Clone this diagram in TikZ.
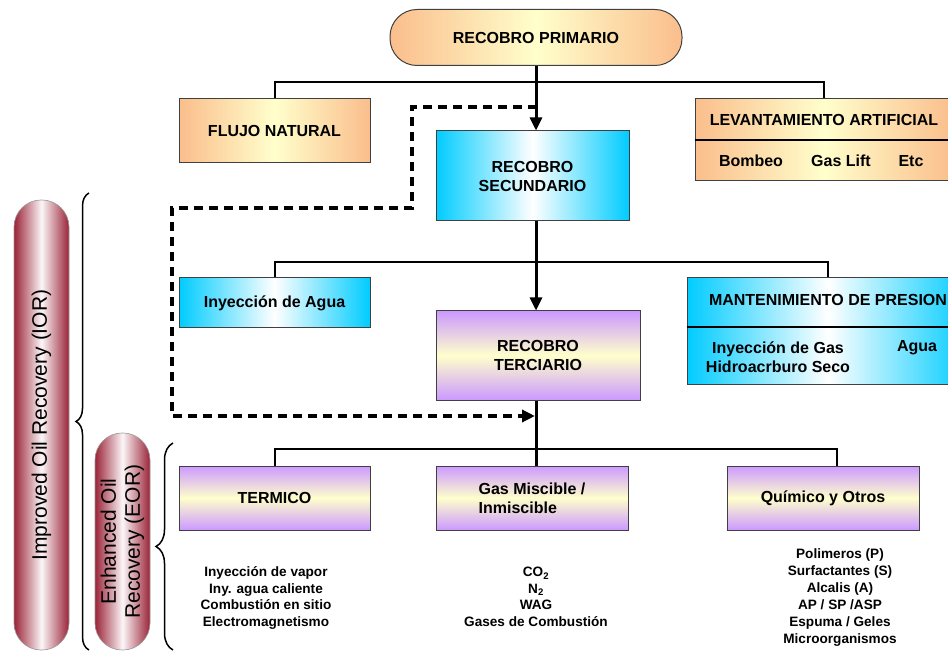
\documentclass[tikz,border=0pt]{standalone}
\usepackage{fontspec}
\setmainfont{Liberation Sans}
\usetikzlibrary{arrows.meta,positioning,calc,decorations.pathreplacing}

\definecolor{peach}{RGB}{250,190,140}
\definecolor{paleyellow}{RGB}{255,255,204}
\definecolor{skyblue}{RGB}{0,204,255}
\definecolor{lilac}{RGB}{204,153,255}
\definecolor{wine}{RGB}{155,35,55}

\begin{document}
\begin{tikzpicture}[x=1pt, y=-1pt,
    boxfont/.style={font=\fontsize{16}{19}\selectfont\bfseries},
    basebox/.style={draw=black!75, line width=1pt, inner sep=0pt, align=center, boxfont},
    orangebox/.style={basebox, left color=peach, right color=peach, middle color=paleyellow},
    bluebox/.style={basebox, left color=skyblue, right color=skyblue, middle color=white},
    purplebox/.style={basebox, top color=lilac, bottom color=lilac, middle color=paleyellow},
    pillbox/.style={draw=black!40, line width=0.6pt, rounded corners=27pt, left color=wine,
      right color=wine, middle color=wine!4, rotate=90, align=center,
      font=\fontsize{21}{24}\selectfont},
    listtext/.style={align=center, font=\fontsize{13.6}{16.5}\selectfont\bfseries},
    bus/.style={line width=2pt},
    flowarrow/.style={line width=3pt, -{Triangle[length=13pt,width=12pt]}},
    dashflow/.style={line width=3.5pt, dash pattern=on 9pt off 6pt, -{Triangle[length=13pt,width=12pt]}},
    sidebrace/.style={decorate, decoration={brace, amplitude=13pt}, line width=1.5pt}
  ]
    \useasboundingbox (0,0) rectangle (948,652);

    % Primary recovery
    \node[orangebox, rounded corners=27pt, minimum width=292pt, minimum height=56pt] (primario) at (536,37.5) {RECOBRO PRIMARIO};
    \node[orangebox, minimum width=191pt, minimum height=64pt] (flujo) at (274.5,131) {FLUJO NATURAL};
    \node[orangebox, minimum width=258pt, minimum height=82pt] (levant) at (824,140) {};
    \draw[line width=2pt] (levant.west) -- (levant.east);
    \node[boxfont] (levtitle) at (824,120) {LEVANTAMIENTO ARTIFICIAL};
    \node[boxfont] (bombeo) at (751,161) {Bombeo};
    \node[boxfont] (gaslift) at (841,161) {Gas Lift};
    \node[boxfont] (etc) at (911,161) {Etc};

    % Secondary recovery
    \node[bluebox, minimum width=193pt, minimum height=90pt] (secund) at (532.5,176) {RECOBRO\\SECUNDARIO};
    \node[bluebox, minimum width=191pt, minimum height=50pt] (agua) at (274.5,303) {Inyección de Agua};
    \node[bluebox, minimum width=282pt, minimum height=106pt] (mant) at (828,331) {};
    \draw[line width=2pt] (mant.west |- 0,327) -- (mant.east |- 0,327);
    \node[boxfont] (manttitle) at (828,300) {MANTENIMIENTO DE PRESION};
    \node[boxfont, align=center] (injgas) at (778,357.5) {Inyección de Gas\\Hidroacrburo Seco};
    \node[boxfont] (mantagua) at (917,348) {Agua};

    % Tertiary recovery
    \node[purplebox, minimum width=204pt, minimum height=89pt] (terciario) at (538,355.5) {RECOBRO\\TERCIARIO};
    \node[purplebox, minimum width=191pt, minimum height=64pt] (termico) at (274.5,498) {TERMICO};
    \node[purplebox, align=left, minimum width=192pt, minimum height=64pt] (gas) at (532,498) {Gas Miscible /\\Inmiscible};
    \node[purplebox, minimum width=192pt, minimum height=64pt] (quimico) at (823,498) {Químico y Otros};

    % Method lists
    \node[listtext] (termlist) at (266,598) {Inyección de vapor\\Iny. agua caliente\\Combustión en sitio\\Electromagnetismo};
    \node[listtext] (gaslist) at (536,597) {CO\textsubscript{2}\\N\textsubscript{2}\\WAG\\Gases de Combustión};
    \node[listtext, font=\fontsize{13.6}{17}\selectfont\bfseries] (quimlist) at (840,597.5) {Polimeros (P)\\Surfactantes (S)\\Alcalis (A)\\AP / SP /ASP\\Espuma / Geles\\Microorganismos};

    % Side labels
    \node[pillbox, minimum width=450pt, minimum height=55pt] (ior) at (41.5,425) {Improved Oil Recovery (IOR)};
    \node[pillbox, minimum width=217pt, minimum height=55pt] (eor) at (122.5,541.5) {Enhanced Oil\\Recovery (EOR)};
    \coordinate (iortop) at (89,193);
    \coordinate (iorbot) at (89,650);
    \draw[sidebrace] (iorbot) -- (iortop);
    \coordinate (eortop) at (173,443);
    \coordinate (eorbot) at (173,650);
    \draw[sidebrace, decoration={amplitude=17pt}] (eorbot) -- (eortop);

    % Connectors
    \coordinate (bus1) at (537,82);
    \draw[bus] (flujo.north) |- (bus1) -| (levant.north);
    \draw[flowarrow] (primario.south) -- (primario.south |- secund.north);
    \coordinate (bus2) at (537,262);
    \draw[bus] (agua.north) |- (bus2) -| (mant.north);
    \draw[flowarrow] (secund.south -| primario.south) -- (primario.south |- terciario.north);
    \coordinate (bus3) at (537,449);
    \draw[bus] (termico.north) |- (bus3) -| ([xshift=14pt]quimico.north);
    \draw[line width=3pt] (terciario.south -| primario.south) -- (primario.south |- gas.north);

    % Dashed bypass to tertiary
    \coordinate (dstart) at (537,107);
    \coordinate (dend) at (535,416);
    \draw[dashflow] (dstart) -| (412,208) -| (172,416) -- (dend);
\end{tikzpicture}
\end{document}
